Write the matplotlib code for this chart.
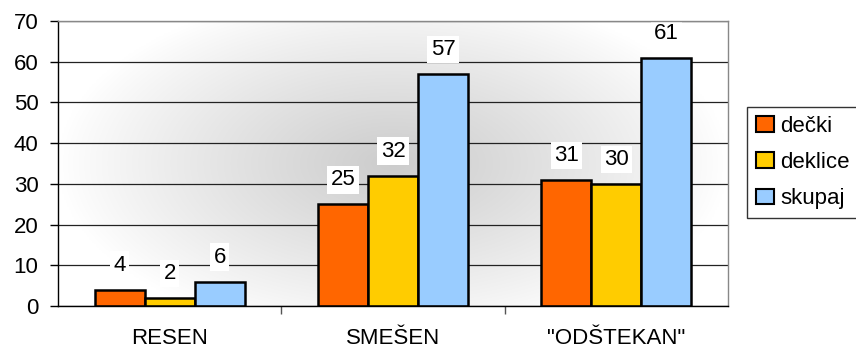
import numpy as np
import matplotlib
matplotlib.use("Agg")
import matplotlib.pyplot as plt
from matplotlib.patches import Patch

categories = ["RESEN", "SMEŠEN", "\"ODŠTEKAN\""]
series_names = ["dečki", "deklice", "skupaj"]
decki = [4, 25, 31]
deklice = [2, 32, 30]
skupaj = [6, 57, 61]
y_ticks = [0, 10, 20, 30, 40, 50, 60, 70]

colors = ["#ff6600", "#ffcc00", "#99ccff"]
series = [decki, deklice, skupaj]

plt.rcParams["font.family"] = ["Liberation Sans", "DejaVu Sans"]
fs = 16

fig = plt.figure(figsize=(8.56, 3.51), dpi=100)
W, H = 856, 351
L, R, T, B = 58, 728, 21, 306
ax = fig.add_axes([L / W, 1 - B / H, (R - L) / W, (B - T) / H])

# grey "from centre" gradient fill of the plot area
nx, ny = 400, 200
gx = np.linspace(0, 1, nx)
gy = np.linspace(0, 1, ny)
X, Y = np.meshgrid(gx, gy)
d = np.sqrt(((X - 0.5) / 0.5) ** 2 + ((Y - 0.5) / 0.62) ** 2)
t = np.clip(1 - d, 0, 1) ** 0.9
val = 1.0 - (1.0 - 0.80) * t
img = np.dstack([val, val, val])
ax.imshow(img, extent=[0, 1, 0, 1], transform=ax.transAxes,
          aspect="auto", zorder=0, interpolation="bilinear")

x = np.arange(len(categories))
bw = 0.224
for i, (vals, c) in enumerate(zip(series, colors)):
    pos = x + (i - 1) * bw
    ax.bar(pos, vals, width=bw, color=c, edgecolor="black",
           linewidth=1.8, zorder=3, label=series_names[i])
    for p, v in zip(pos, vals):
        ax.annotate(str(v), (p, v), xytext=(0, 10), textcoords="offset points",
                    ha="center", va="bottom", fontsize=fs, zorder=4,
                    bbox=dict(boxstyle="square,pad=0.15", fc="white", ec="none"))

ax.set_xlim(-0.5, 2.5)
ax.set_ylim(0, 70)
ax.set_yticks(y_ticks)
ax.yaxis.grid(True, color="#222222", linewidth=0.9, zorder=1)
for gl in ax.get_ygridlines():
    gl.set_zorder(1)

ax.set_xticks(x)
ax.set_xticklabels(categories, fontsize=fs)
ax.tick_params(axis="x", which="major", length=0, pad=16)
ax.set_xticks([0.5, 1.5], minor=True)
ax.tick_params(axis="x", which="minor", length=6, width=1, color="#555555")
ax.tick_params(axis="y", labelsize=fs, length=6, width=1, pad=8)

ax.spines["left"].set_color("black")
ax.spines["bottom"].set_color("black")
ax.spines["top"].set_color("#888888")
ax.spines["right"].set_color("#888888")
for s in ax.spines.values():
    s.set_linewidth(1.0)
    s.set_zorder(5)

handles = [Patch(facecolor=c, edgecolor="black", linewidth=1.5) for c in colors]
leg = fig.legend(handles, series_names, loc="upper left",
                 bbox_to_anchor=(747 / W, 1 - 107 / H), fontsize=fs,
                 frameon=True, fancybox=False, edgecolor="black",
                 handlelength=0.8, handleheight=0.7, handletextpad=0.3,
                 labelspacing=0.68, borderpad=0.4, borderaxespad=0)
leg.get_frame().set_linewidth(1.0)

fig.savefig("out.png", dpi=100, facecolor="white")
